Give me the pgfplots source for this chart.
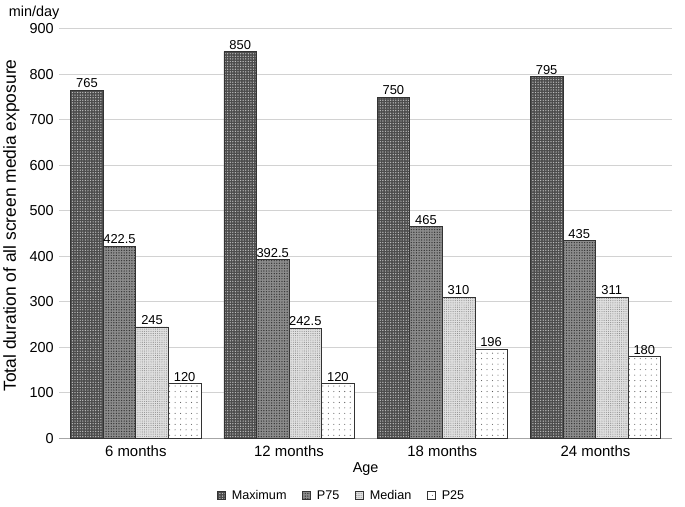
\documentclass[border=0pt]{standalone}
\usepackage{pgfplots}
\pgfplotsset{compat=1.18}
\usetikzlibrary{patterns,patterns.meta}
\usepackage{fontspec}
\setmainfont{Liberation Sans}

\newcommand{\fs}[1]{\fontsize{#1bp}{#1bp}\selectfont}

\begin{document}
\begin{tikzpicture}
\begin{axis}[
    name=ax,
    scale only axis,
    width=616bp, height=411.6bp,
    ybar, bar width=0.2125,
    xmin=-0.5, xmax=3.5, ymin=0, ymax=900,
    xtick={0,1,2,3},
    xticklabels={6 months,12 months,18 months,24 months},
    ytick={0,100,...,900},
    ymajorgrids,
    grid style={gray!35, line width=0.9pt},
    axis x line*=bottom, axis y line*=left,
    y axis line style={draw=none},
    x axis line style={gray!70, line width=0.9pt},
    major tick length=0pt,
    /pgf/number format/assume math mode=true,
    xticklabel style={font=\fs{15}, yshift=-4bp},
    yticklabel style={font=\fs{14.5}, xshift=-2bp},
    xlabel={Age},
    xlabel style={font=\fs{14.5}, yshift=1bp},
    ylabel={Total duration of all screen media exposure},
    ylabel style={font=\fs{17.5}, at={(rel axis cs:0,0.52)}, yshift=48bp, anchor=center},
    nodes near coords={\pgfmathprintnumber[fixed,precision=1,assume math mode=true]{\pgfplotspointmeta}},
    nodes near coords style={font=\fs{13}, text=black, inner sep=2bp},
    legend style={at={(0.5,-0.14)}, xshift=-24bp, anchor=center, legend columns=-1, draw=none,
        font=\fs{12.7},
        /tikz/every odd column/.append style={column sep=4bp},
        /tikz/every even column/.append style={column sep=14bp}},
    legend image code/.code={\draw[#1, line width=0.6pt] (0bp,-4bp) rectangle (8bp,4bp);},
]
\addplot[draw=black!80, line width=0.6pt, fill=black!70,
    postaction={pattern={Dots[distance=2.6bp, radius=0.7bp]}, pattern color=black!25},
    bar shift=-0.31875]
    coordinates {(0,765) (1,850) (2,750) (3,795)};
\addplot[draw=black!80, line width=0.6pt, fill=black!45,
    postaction={pattern={Dots[distance=2.6bp, radius=0.7bp]}, pattern color=black!80},
    bar shift=-0.10625]
    coordinates {(0,422.5) (1,392.5) (2,465) (3,435)};
\addplot[draw=black!80, line width=0.6pt, fill=black!12,
    postaction={pattern={Dots[distance=2.2bp, radius=0.55bp]}, pattern color=black!45},
    bar shift=0.10625]
    coordinates {(0,245) (1,242.5) (2,310) (3,311)};
\addplot[draw=black!80, line width=0.6pt, fill=white,
    postaction={pattern={Dots[distance=5.5bp, radius=0.55bp]}, pattern color=black!65},
    bar shift=0.31875]
    coordinates {(0,120) (1,120) (2,196) (3,180)};
\legend{Maximum,P75,Median,P25}
\end{axis}
\node[anchor=base west, font=\fs{14.5}] at ([shift={(-54bp,12bp)}]ax.north west) {min/day};
\path ([shift={(-56bp,-68.4bp)}]ax.south west) rectangle ([shift={(13bp,29bp)}]ax.north east);
\end{tikzpicture}
\end{document}
